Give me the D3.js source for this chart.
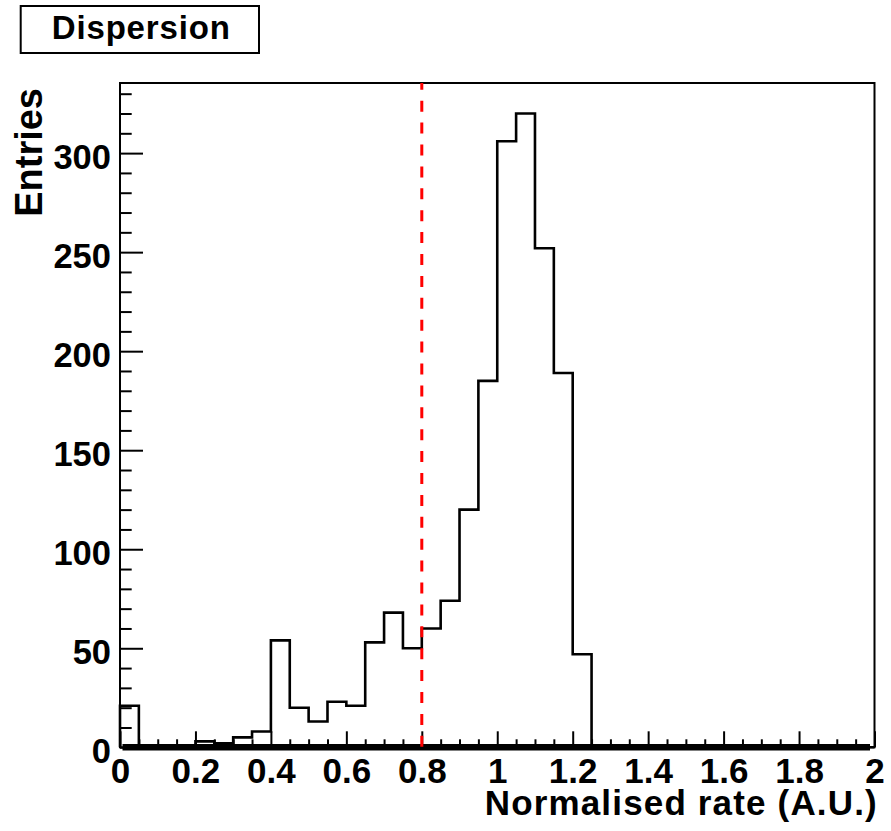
<!DOCTYPE html>
<html>
<head>
<meta charset="utf-8">
<script src="https://cdn.jsdelivr.net/npm/d3@7"></script>
<style>
  body { margin: 0; background: #fff; }
  svg { display: block; }
  text { font-family: "Liberation Sans", Arial, Helvetica, sans-serif; font-weight: bold; fill: #000; }
</style>
</head>
<body>
<div id="wrapper"></div>
<script>
const width = 891,
    height = 831;

// histogram: 40 bins of 0.05 from 0 to 2
const binLow = 0, binWidth = 0.05;
const counts = [21, 0, 0, 0, 3, 2, 5, 8, 54, 20,
                13, 23, 21, 53, 68, 50, 60, 74, 120, 185,
                306, 320, 252, 189, 47, 0, 0, 0, 0, 0,
                0, 0, 0, 0, 0, 0, 0, 0, 0, 0];
const xMajor = [0, 0.2, 0.4, 0.6, 0.8, 1, 1.2, 1.4, 1.6, 1.8, 2];
const yMajor = [0, 50, 100, 150, 200, 250, 300];
const cutValue = 0.8;
const title = "Dispersion",
    xTitle = "Normalised rate (A.U.)",
    yTitle = "Entries";

const x = d3.scaleLinear().domain([0, 2]).range([120, 874.5]);
const y = d3.scaleLinear().domain([0, 335.4]).range([747.3, 83]);

const xMinor = d3.range(0, 41).map(i => i * 0.05).filter(v => !xMajor.some(m => Math.abs(m - v) < 1e-6));
const yMinor = d3.range(0, 34).map(i => i * 10).filter(v => v % 50 !== 0);

const svg = d3.select('#wrapper')
    .append('svg')
    .attr('width', width)
    .attr('height', height);

// title box
svg.append('rect')
    .attr('x', 20.7).attr('y', 6)
    .attr('width', 238.3).attr('height', 47)
    .attr('fill', '#fff').attr('stroke', '#000').attr('stroke-width', 2);
svg.append('text')
    .attr('x', 140.8).attr('y', 38.5)
    .attr('text-anchor', 'middle')
    .attr('font-size', 33)
    .attr('textLength', 178)
    .attr('lengthAdjust', 'spacing')
    .text(title);

// frame
svg.append('rect')
    .attr('x', x(0)).attr('y', y(335.4))
    .attr('width', x(2) - x(0)).attr('height', y(0) - y(335.4))
    .attr('fill', 'none').attr('stroke', '#000').attr('stroke-width', 2);

// x axis ticks (inside)
const xAxisG = svg.append('g').attr('transform', `translate(0,${y(0)})`);
xAxisG.append('g')
    .call(d3.axisBottom(x).tickValues(xMinor).tickSize(-8).tickFormat(''))
    .call(g => g.select('.domain').remove());
xAxisG.append('g')
    .call(d3.axisBottom(x).tickValues(xMajor).tickSize(-16).tickFormat(d3.format('')))
    .call(g => g.select('.domain').remove())
    .call(g => g.selectAll('text').attr('y', 35.5).attr('dy', 0).attr('font-size', 35)
        .attr('font-family', null));
xAxisG.selectAll('line').attr('stroke', '#000').attr('stroke-width', 2);

// y axis ticks (inside)
const yAxisG = svg.append('g').attr('transform', `translate(${x(0)},0)`);
yAxisG.append('g')
    .call(d3.axisLeft(y).tickValues(yMinor).tickSize(-11.7).tickFormat(''))
    .call(g => g.select('.domain').remove());
yAxisG.append('g')
    .call(d3.axisLeft(y).tickValues(yMajor).tickSize(-23).tickPadding(9).tickFormat(d3.format('')))
    .call(g => g.select('.domain').remove())
    .call(g => g.selectAll('text').attr('dy', 15).attr('font-size', 34.5)
        .attr('font-family', null));
yAxisG.selectAll('line').attr('stroke', '#000').attr('stroke-width', 2);

// histogram outline
const pts = [[binLow, 0]].concat(counts.map((c, i) => [binLow + i * binWidth, c]));
pts.push([binLow + counts.length * binWidth, 0]);
const line = d3.line()
    .x(d => x(d[0]))
    .y(d => y(d[1]))
    .curve(d3.curveStepAfter);
svg.append('path')
    .datum(pts)
    .attr('d', line)
    .attr('fill', 'none')
    .attr('stroke', '#000')
    .attr('stroke-width', 2.6);

// thick zero line
svg.append('line')
    .attr('x1', 122.5).attr('x2', 870)
    .attr('y1', y(0)).attr('y2', y(0))
    .attr('stroke', '#000').attr('stroke-width', 6.5);

// cut line
svg.append('line')
    .attr('x1', x(cutValue)).attr('x2', x(cutValue))
    .attr('y1', y(335.4)).attr('y2', y(0))
    .attr('stroke', '#ff0000').attr('stroke-width', 3)
    .attr('stroke-dasharray', '11,10.9')
    .attr('stroke-dashoffset', 4.2);

// axis titles
svg.append('text')
    .attr('x', 876.7).attr('y', 815)
    .attr('text-anchor', 'end')
    .attr('font-size', 35)
    .attr('textLength', 392)
    .attr('lengthAdjust', 'spacing')
    .text(xTitle);
svg.append('text')
    .attr('transform', 'translate(41.7,88) rotate(-90)')
    .attr('text-anchor', 'end')
    .attr('font-size', 38)
    .text(yTitle);
</script>
</body>
</html>
